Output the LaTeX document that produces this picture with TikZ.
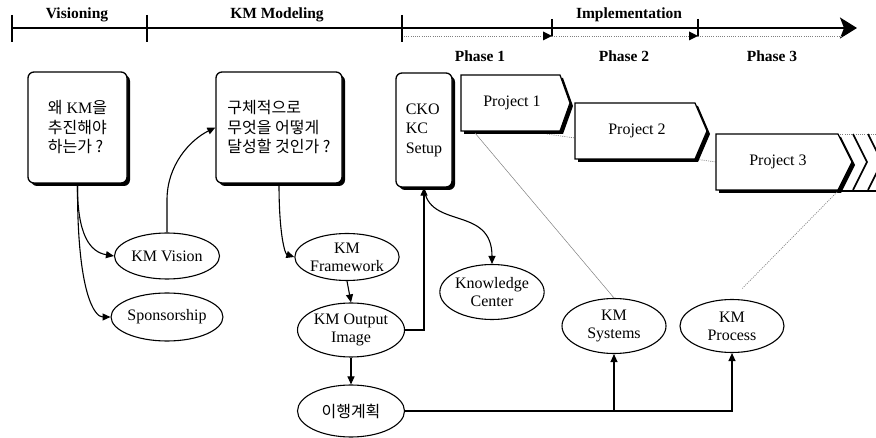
\documentclass[tikz,border=0pt]{standalone}
\usepackage{fontspec}
\setmainfont{Liberation Serif}
\newfontfamily\kr{Noto Sans CJK KR}
\usetikzlibrary{arrows.meta,shapes.geometric,shadows}
\begin{document}
\begin{tikzpicture}[x=1pt,y=-1pt,
  shd/.style={drop shadow={shadow xshift=3pt,shadow yshift=-3pt,fill=black,opacity=1}},
  box/.style={draw,line width=1.3pt,rounded corners=6pt,fill=white,inner sep=0pt,shd,
     font=\fontsize{16}{19.5}\selectfont,align=left},
  oval/.style={draw,ellipse,line width=1.1pt,fill=white,inner sep=0pt,
     font=\fontsize{16}{18}\selectfont,align=center},
  projshape/.style={draw,line width=1.2pt,fill=white,shd},
  ptext/.style={font=\fontsize{16}{18}\selectfont,inner sep=0pt},
  head/.style={font=\bfseries\fontsize{15.5}{17}\selectfont,inner sep=0pt},
  conn/.style={line width=1.1pt,-{Triangle[length=8pt,width=7pt]}},
  guide/.style={gray,line width=0.5pt},
  dots/.style={gray,line width=0.7pt,dash pattern=on 1pt off 1.2pt},
]
\useasboundingbox (0,0) rectangle (876,438);

% timeline
\coordinate (t0) at (12,28);
\coordinate (tend) at (857,28);
\draw[line width=2pt,-{Stealth[length=17pt,width=21pt,inset=4pt]}] (t0) -- (tend);
\foreach \x in {12,147,402} \draw[line width=2pt] (\x,15) -- (\x,42);
\coordinate (d0) at (404,36);
\coordinate (d1) at (552,36);
\coordinate (d2) at (698,36);
\coordinate (d3) at (842,36);
\draw[dots] (d0) -- (d1);
\draw[dots] (d1) -- (d2);
\draw[dots] (d2) -- (d3);
\fill (d1) -- ++(-9,-4.5) -- ++(0,9) -- cycle;
\fill (d2) -- ++(-9,-4.5) -- ++(0,9) -- cycle;
\draw[line width=1.2pt] (552,19) -- (d1);
\draw[line width=1.2pt] (698,19) -- (d2);

\node[head] (hv) at (77,15) {Visioning};
\node[head] (hm) at (277,15) {KM Modeling};
\node[head] (hi) at (629,15) {Implementation};
\node[head] (ph1) at (480,56) {Phase 1};
\node[head] (ph2) at (624,56) {Phase 2};
\node[head] (ph3) at (772,56) {Phase 3};

% boxes
\node[box,minimum width=99pt,minimum height=111pt] (b1) at (77.5,127.5)
  {{\kr 왜} KM{\kr 을}\\{\kr 추진해야}\\{\kr 하는가 ?}};
\node[box,minimum width=126pt,minimum height=111pt] (b2) at (279,127.5)
  {{\kr 구체적으로}\\{\kr 무엇을 어떻게}\\{\kr 달성할 것인가 ?}};
\node[box,minimum width=56pt,minimum height=114pt] (cko) at (424,130)
  {CKO\\KC\\Setup};

% projects
\coordinate (p1a) at (475,133);
\coordinate (p1b) at (547,134);
\coordinate (p2a) at (575,138);
\coordinate (p2b) at (695,159);
\coordinate (p3a) at (716,162);
\coordinate (p3b) at (837,192);
\coordinate (p3c) at (838,134);
\coordinate (edge) at (876,134);
\draw[dots] (p1b) -- (p2a);
\draw[dots] (p2b) -- (p3a);
\draw[dots] (p3c) -- (edge);
\path[projshape] (461,75) -- (560,75) -- (570,103) -- (560,131) -- (461,131) -- cycle;
\node[ptext] (p1) at (512,103) {Project 1};
\path[projshape] (575,103) -- (695,103) -- (707,131) -- (695,159) -- (575,159) -- cycle;
\node[ptext] (p2) at (637,131) {Project 2};
\path[projshape] (716,134) -- (838,134) -- (852,162) -- (838,190) -- (716,190) -- cycle;
\node[ptext] (p3) at (778,162) {Project 3};
\draw[line width=2pt] (840,191.5) -- (876,191.5);
\draw[line width=1.6pt] (853,134) -- (867,162) -- (853,190);
\draw[line width=1.6pt] (868,134) -- (882,162) -- (868,190);

% ellipses
\node[oval,minimum width=105pt,minimum height=46pt] (vis) at (167,256) {KM Vision};
\node[oval,minimum width=107pt,minimum height=48pt] (spo) at (167,317) {Sponsorship};
\node[oval,minimum width=100pt,minimum height=47pt] (frm) at (347,257) {KM\\Framework};
\node[oval,minimum width=107pt,minimum height=54pt] (out) at (351,330) {KM Output\\Image};
\node[oval,minimum width=107pt,minimum height=52pt] (plan) at (351,411) {\kr 이행계획};
\node[oval,minimum width=103pt,minimum height=55pt] (kc) at (492,292) {Knowledge\\Center};
\node[oval,minimum width=104pt,minimum height=55pt] (sys) at (614,326) {KM\\Systems};
\node[oval,minimum width=104pt,minimum height=53pt] (proc) at (732,326) {KM\\Process};

% connectors
\draw[conn] (b1.south) .. controls (77,235) and (90,252) .. (vis.west);
\draw[conn] (b1.south) .. controls (77,295) and (95,317) .. (spo.west);
\draw[conn] (vis.north) -- (167,200) .. controls (167,165) and (190,140) .. (b2.west);
\draw[conn] (b2.south) .. controls (279,235) and (285,254) .. (frm.west);
\draw[conn] (frm.south) -- (out.north);
\draw[conn] (out.east) -| (cko.south);
\draw[conn] (cko.south) .. controls (428,230) and (492,205) .. (kc.north);
\draw[conn] (out.south) -- (plan.north);
\draw[conn] (plan.east) -| (proc.south);
\draw[conn] (plan.east -| sys.south) -- (sys.south);

\draw[guide] (p1a) -- (sys.north);
\draw[dots,shorten >=14pt] (p3b) -- (proc.north);
\end{tikzpicture}
\end{document}
